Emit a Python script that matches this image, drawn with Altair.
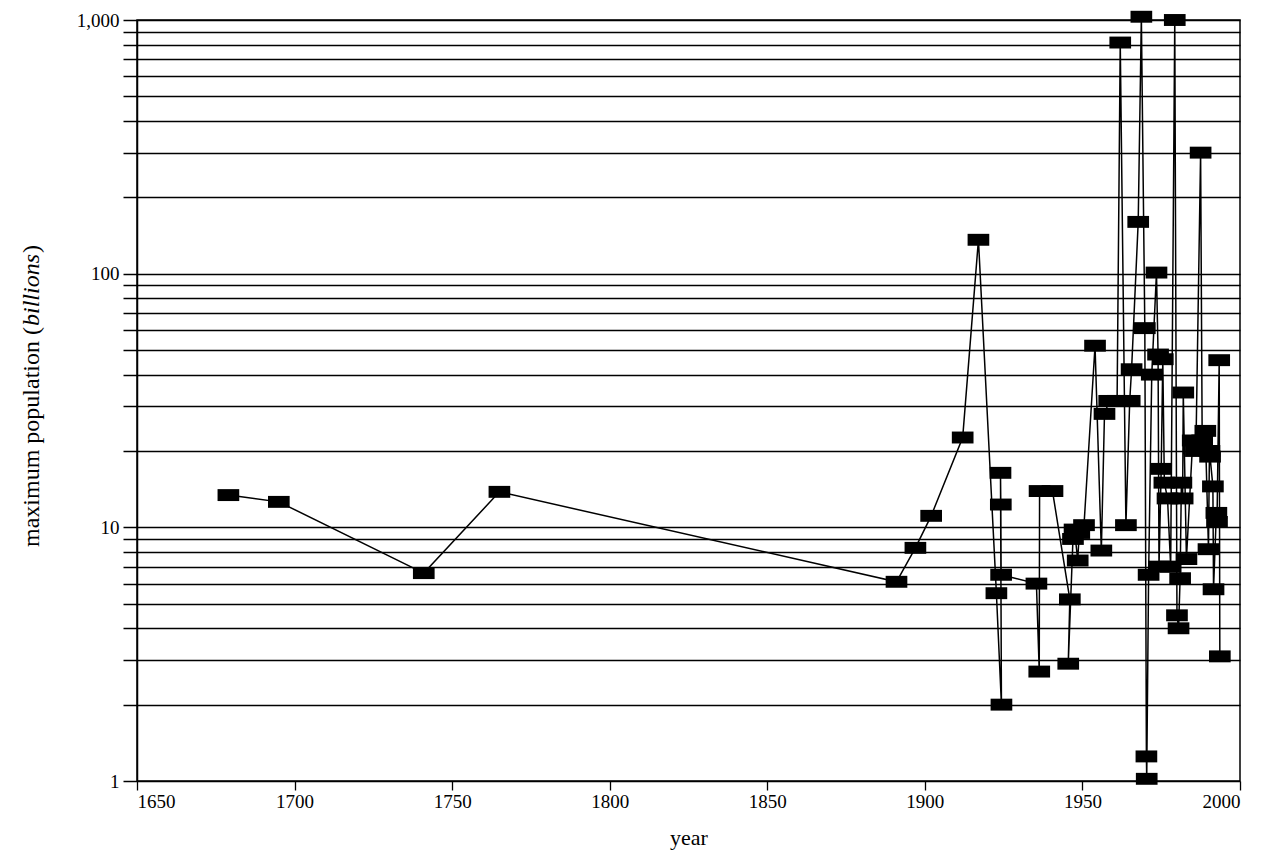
import altair as alt
import pandas as pd

years = [1679, 1695, 1741, 1765, 1891, 1897, 1902, 1912, 1917,
         1922.7, 1924.3, 1924, 1924.1, 1924.2,
         1935.4, 1936.3, 1936.4, 1940.5, 1946, 1945.5, 1947, 1947.5, 1948.5, 1949, 1950.5,
         1954, 1956, 1957, 1958.5, 1961, 1962, 1963.8, 1965, 1965.6, 1967.7, 1968.7,
         1969.8, 1970.3, 1970.4, 1971, 1972, 1973.5, 1974, 1974.3, 1975, 1975.5, 1976,
         1977, 1978, 1979.3, 1980, 1980.5, 1981, 1981.4, 1981.8, 1982, 1983, 1985,
         1986, 1987.5, 1988, 1989, 1990, 1990.3, 1990.5, 1991.4, 1991.6, 1992.5, 1992.7,
         1993.4, 1993.6]
values = [13.4, 12.6, 6.6, 13.8, 6.1, 8.3, 11.1, 22.6, 136,
          5.5, 2.0, 16.4, 12.3, 6.5,
          6.0, 2.7, 13.9, 13.9, 5.2, 2.9, 9.0, 9.8, 7.4, 9.5, 10.2,
          52, 8.1, 28, 31.5, 31.5, 815, 10.2, 31.5, 42, 160, 1030,
          61, 1.25, 1.02, 6.5, 40, 101, 48, 7.0, 17, 46, 15,
          13, 7.0, 1000, 4.5, 4.0, 6.3, 15, 13, 34, 7.5, 22,
          20, 300, 22, 24, 8.2, 20, 19, 14.5, 5.7, 11.4, 10.5,
          45.6, 3.1]

y_ticks = [1, 2, 3, 4, 5, 6, 7, 8, 9, 10, 20, 30, 40, 50, 60, 70, 80, 90,
           100, 200, 300, 400, 500, 600, 700, 800, 900, 1000]
x_ticks = [1650, 1700, 1750, 1800, 1850, 1900, 1950, 2000]

title_parts = ["maximum population (", "billions", ")"]

df = pd.DataFrame({"year": years, "pop": values, "order": list(range(len(years)))})

FONT = "Liberation Serif"

x = alt.X("year:Q", scale=alt.Scale(domain=[1650, 2000], nice=False, zero=False),
          axis=alt.Axis(values=x_ticks, format="d", title="year", grid=False,
                        tickSize=9, tickColor="black", tickWidth=1.3,
                        domain=False, labelFontSize=19, labelPadding=2,
                        titleFontSize=22, titleFontWeight="normal", titlePadding=16,
                        labelFont=FONT, titleFont=FONT, labelColor="black", titleColor="black"))
y = alt.Y("pop:Q", scale=alt.Scale(type="log", domain=[1, 1000], nice=False),
          axis=alt.Axis(values=y_ticks,
                        labelExpr="indexof([1,10,100,1000], datum.value) >= 0 ? format(datum.value, ',') : ''",
                        title="",
                        grid=True, gridColor="black", gridOpacity=1, gridWidth=1.5,
                        tickSize=14, tickColor="black", tickWidth=1.5,
                        domainColor="black", domainWidth=1.5,
                        labelFontSize=19, labelPadding=4, labelFont=FONT, labelColor="black"))

line = alt.Chart(df).mark_line(color="black", strokeWidth=1.5).encode(
    x=x, y=y, order="order:Q")
pts = alt.Chart(df).mark_point(
    shape="M-1,-0.55L1,-0.55L1,0.55L-1,0.55Z", size=470, filled=True,
    color="black", opacity=1).encode(x="year:Q", y="pop:Q")


def title_piece(txt, ypos, style):
    return alt.Chart(pd.DataFrame({"t": [txt]})).mark_text(
        angle=270, align="left", baseline="middle", font=FONT, fontSize=24,
        fontStyle=style, color="black").encode(
        x=alt.value(-105), y=alt.value(ypos), text="t:N")


t1 = title_piece(title_parts[0], 527, "normal")
t2 = title_piece(title_parts[1], 306, "italic")
t3 = title_piece(title_parts[2], 233, "normal")

chart = (line + pts + t1 + t2 + t3).properties(
    width=1103, height=761,
    autosize=alt.AutoSizeParams(type="none"),
    padding={"left": 137, "top": 20, "right": 34, "bottom": 74},
    background="white",
).configure_view(stroke="black", strokeWidth=1.5)

chart.save("out.html", embed_options={"renderer": "svg", "actions": False})
